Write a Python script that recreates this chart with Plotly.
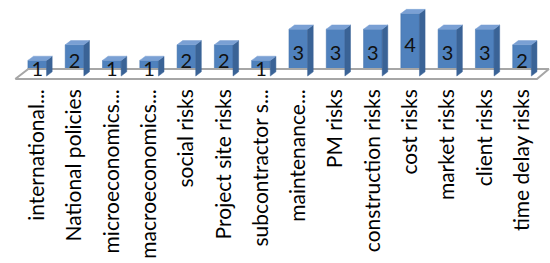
import plotly.graph_objects as go

categories = ["international...", "National policies", "microeconomics...", "macroeconomics...",
              "social risks", "Project site risks", "subcontractor s...", "maintenance...",
              "PM risks", "construction risks", "cost risks", "market risks", "client risks",
              "time delay risks"]
values = [1, 2, 1, 1, 2, 2, 1, 3, 3, 3, 4, 3, 3, 2]

FRONT = "#4F81BD"
SIDE = "#3A6396"
TOP = "#7AA0D4"

xs = list(range(len(categories)))
bw = 0.5      # bar front width (category units)
dx = 0.15     # depth offset x
dy = 0.27     # depth offset y

fig = go.Figure()

# floor
fl_x = [-0.59, 13.40, 13.72, -0.24, -0.59]
fl_y = [-0.19, -0.19, 0.45, 0.45, -0.19]
fig.add_trace(go.Scatter(x=fl_x, y=fl_y, mode="lines", fill="toself",
                         fillcolor="white", line=dict(color="#A6A6A6", width=2),
                         hoverinfo="skip", showlegend=False))

# front faces
fig.add_trace(go.Bar(x=xs, y=values, width=bw, marker=dict(color=FRONT,
                     line=dict(color="#3F6FA8", width=0.5)), showlegend=False))

# side faces and tops
sx, sy, tx, ty = [], [], [], []
for i, v in zip(xs, values):
    r = i + bw / 2
    l = i - bw / 2
    sx += [r, r + dx, r + dx, r, r, None]
    sy += [0, dy, v + dy, v, 0, None]
    tx += [l, r, r + dx, l + dx, l, None]
    ty += [v, v, v + dy, v + dy, v, None]
fig.add_trace(go.Scatter(x=sx, y=sy, mode="lines", fill="toself", fillcolor=SIDE,
                         line=dict(color=SIDE, width=0.5), hoverinfo="skip", showlegend=False))
fig.add_trace(go.Scatter(x=tx, y=ty, mode="lines", fill="toself", fillcolor=TOP,
                         line=dict(color=TOP, width=0.5), hoverinfo="skip", showlegend=False))

# value labels
fig.add_trace(go.Scatter(x=xs, y=[v / 2 - 0.15 for v in values], mode="text",
                         text=[str(v) for v in values],
                         textfont=dict(family="Lato", size=20, color="#111111"),
                         hoverinfo="skip", showlegend=False, cliponaxis=False))

fig.update_layout(
    width=550, height=263,
    margin=dict(l=12.75, r=0, t=0, b=179, autoexpand=False),
    paper_bgcolor="white", plot_bgcolor="white",
    barmode="overlay",
    xaxis=dict(range=[-0.65, 13.75], tickvals=xs, ticktext=categories, tickangle=-90,
               showgrid=False, zeroline=False, showline=False, ticks="",
               tickfont=dict(family="Lato", size=21, color="black"), automargin=False),
    yaxis=dict(range=[-0.51, 4.87], visible=False, showgrid=False, zeroline=False),
)

fig.write_html("out.html", config={"displayModeBar": False},
               post_script="document.body.style.margin='0';document.body.style.overflow='hidden';")
